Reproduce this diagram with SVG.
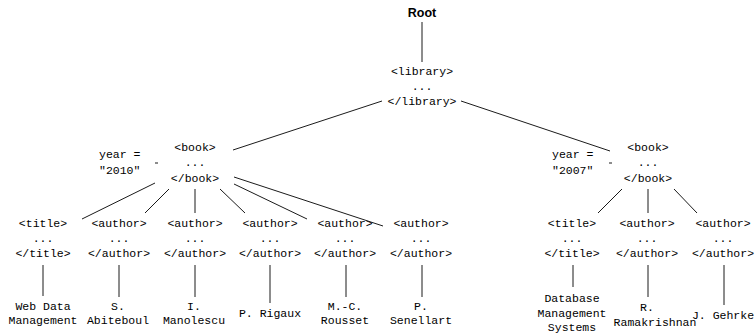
<svg xmlns="http://www.w3.org/2000/svg" width="756" height="334" viewBox="0 0 756 334">
<style>
text{font-family:"Liberation Mono","DejaVu Sans Mono",monospace;font-size:11.5px;fill:#000;text-anchor:middle}
.l{text-anchor:start}
.root{font-family:"Liberation Sans",Arial,sans-serif;font-weight:bold;font-size:12.5px}
#edges line{stroke:#000;stroke-width:0.9}
</style>
<rect width="756" height="334" fill="#fff"/>
<g id="edges">
<line x1="422" y1="22" x2="422" y2="62"/>
<line x1="382" y1="101" x2="233" y2="150"/>
<line x1="461" y1="101" x2="610" y2="151"/>
<line x1="155" y1="163" x2="158" y2="163"/>
<line x1="155" y1="183" x2="82" y2="219"/>
<line x1="169" y1="189" x2="145" y2="213"/>
<line x1="195" y1="189" x2="195" y2="213"/>
<line x1="220" y1="189" x2="245" y2="213"/>
<line x1="234" y1="184" x2="307" y2="219"/>
<line x1="234" y1="177" x2="383" y2="226"/>
<line x1="609" y1="163" x2="612" y2="163"/>
<line x1="622" y1="189" x2="598" y2="213"/>
<line x1="648" y1="189" x2="648" y2="213"/>
<line x1="674" y1="189" x2="697" y2="213"/>
<line x1="43" y1="265" x2="43" y2="296"/>
<line x1="119" y1="265" x2="119" y2="297"/>
<line x1="195" y1="265" x2="195" y2="297"/>
<line x1="270" y1="265" x2="270" y2="303"/>
<line x1="346" y1="265" x2="346" y2="297"/>
<line x1="422" y1="265" x2="422" y2="297"/>
<line x1="573" y1="265" x2="573" y2="287"/>
<line x1="648" y1="265" x2="648" y2="297"/>
<line x1="724" y1="265" x2="724" y2="305"/>
</g>
<g id="root"><text class="root" x="422" y="17">Root</text></g>
<g id="library"><text x="422" y="75">&lt;library&gt;</text><text x="422" y="90">...</text><text x="422" y="105">&lt;/library&gt;</text></g>
<g id="book1"><text x="195" y="151">&lt;book&gt;</text><text x="195" y="166">...</text><text x="195" y="182">&lt;/book&gt;</text></g>
<g id="year1"><text class="l" x="99" y="158">year =</text><text class="l" x="99" y="174">"2010"</text></g>
<g id="book2"><text x="648" y="151">&lt;book&gt;</text><text x="648" y="166">...</text><text x="648" y="182">&lt;/book&gt;</text></g>
<g id="year2"><text class="l" x="552" y="158">year =</text><text class="l" x="552" y="174">"2007"</text></g>
<g id="title1"><text x="43" y="227">&lt;title&gt;</text><text x="43" y="242">...</text><text x="43" y="257">&lt;/title&gt;</text></g>
<g id="author1"><text x="119" y="227">&lt;author&gt;</text><text x="119" y="242">...</text><text x="119" y="257">&lt;/author&gt;</text></g>
<g id="author2"><text x="195" y="227">&lt;author&gt;</text><text x="195" y="242">...</text><text x="195" y="257">&lt;/author&gt;</text></g>
<g id="author3"><text x="270" y="227">&lt;author&gt;</text><text x="270" y="242">...</text><text x="270" y="257">&lt;/author&gt;</text></g>
<g id="author4"><text x="345" y="227">&lt;author&gt;</text><text x="345" y="242">...</text><text x="345" y="257">&lt;/author&gt;</text></g>
<g id="author5"><text x="421" y="227">&lt;author&gt;</text><text x="421" y="242">...</text><text x="421" y="257">&lt;/author&gt;</text></g>
<g id="title2"><text x="572" y="227">&lt;title&gt;</text><text x="572" y="242">...</text><text x="572" y="257">&lt;/title&gt;</text></g>
<g id="author6"><text x="647" y="227">&lt;author&gt;</text><text x="647" y="242">...</text><text x="647" y="257">&lt;/author&gt;</text></g>
<g id="author7"><text x="723" y="227">&lt;author&gt;</text><text x="723" y="242">...</text><text x="723" y="257">&lt;/author&gt;</text></g>
<g id="leaf1"><text x="43" y="310">Web Data</text><text x="43" y="324">Management</text></g>
<g id="leaf2"><text x="118" y="310">S.</text><text x="118" y="324">Abiteboul</text></g>
<g id="leaf3"><text x="194" y="310">I.</text><text x="194" y="324">Manolescu</text></g>
<g id="leaf4"><text x="270" y="317">P. Rigaux</text></g>
<g id="leaf5"><text x="345" y="310">M.-C.</text><text x="345" y="324">Rousset</text></g>
<g id="leaf6"><text x="421" y="310">P.</text><text x="421" y="324">Senellart</text></g>
<g id="leaf7"><text x="572" y="302">Database</text><text x="572" y="316.5">Management</text><text x="572" y="331">Systems</text></g>
<g id="leaf8"><text x="647" y="311">R.</text><text x="655" y="326">Ramakrishnan</text></g>
<g id="leaf9"><text x="723" y="319">J. Gehrke</text></g>
</svg>
